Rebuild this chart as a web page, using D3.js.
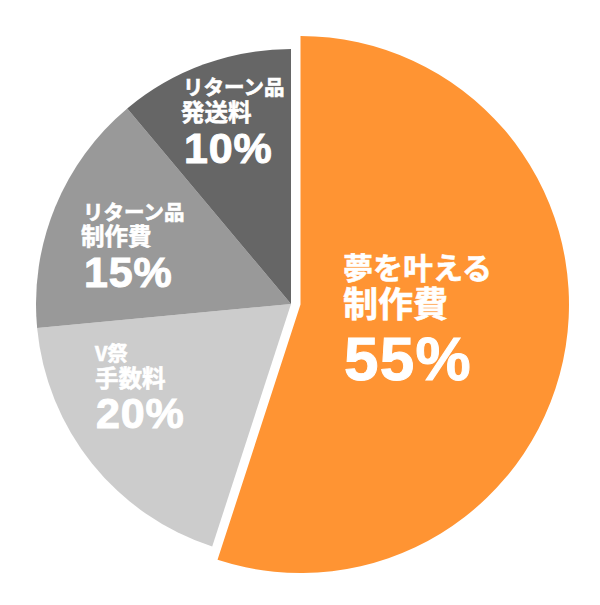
<!DOCTYPE html>
<html>
<head>
<meta charset="utf-8">
<script src="https://cdn.jsdelivr.net/npm/d3@7"></script>
<style>
  html, body { margin: 0; padding: 0; background: #fff; }
  text { font-family: "Noto Sans CJK JP", sans-serif; font-weight: 700; fill: #fff; stroke: #fff; stroke-width: 0.6px; }
  text.pct { font-family: "Liberation Sans", sans-serif; font-weight: 700; stroke-width: 1px; letter-spacing: 0.02em; }
</style>
</head>
<body>
<div id="chart"></div>
<script>
const categories = [["夢を叶える", "制作費"], ["V祭", "手数料"], ["リターン品", "制作費"], ["リターン品", "発送料"]];
const labels = [55, 20, 15, 10];
// the grey slices are not drawn true to the printed numbers, so these are read off the wedges
const shares = [55, 18.5, 15.4, 11.1];
const colors = ["#ff9433", "#cccccc", "#999999", "#666666"];

const width = 600, height = 605;
const svg = d3.select("#chart").append("svg")
  .attr("width", width).attr("height", height);

const pie = d3.pie().sort(null);
const arcs = pie(shares);

const arc = d3.arc().innerRadius(0).outerRadius(255);
const bigArc = d3.arc().innerRadius(0).outerRadius(268.5);

const g = svg.append("g").attr("transform", "translate(291,304)");

// first slice is pulled out a little and is bigger
g.selectAll("path").data(arcs).join("path")
  .attr("d", (d, i) => i == 0 ? bigArc(d) : arc(d))
  .attr("transform", (d, i) => i == 0 ? "translate(9.5,0.5)" : null)
  .attr("fill", (d, i) => colors[i]);

// x, baseline, font size for line 1, line 2, percent
const labelPos = [
  [[343, 279, 30], [343, 317, 35], [344, 380, 62]],
  [[95, 361, 20], [95, 387, 23.5], [96, 428, 43]],
  [[83, 220, 20.5], [81, 245, 23.5], [84, 287, 43]],
  [[183, 95, 20.5], [181, 121, 23.5], [184, 163, 43]]
];
labels.forEach((v, i) => {
  const rows = [categories[i][0], categories[i][1], v + "%"];
  rows.forEach((s, j) => {
    const [x, y, fs] = labelPos[i][j];
    svg.append("text")
      .attr("class", j == 2 ? "pct" : null)
      .attr("x", x).attr("y", y)
      .style("font-size", fs + "px")
      .text(s);
  });
});
</script>
</body>
</html>
